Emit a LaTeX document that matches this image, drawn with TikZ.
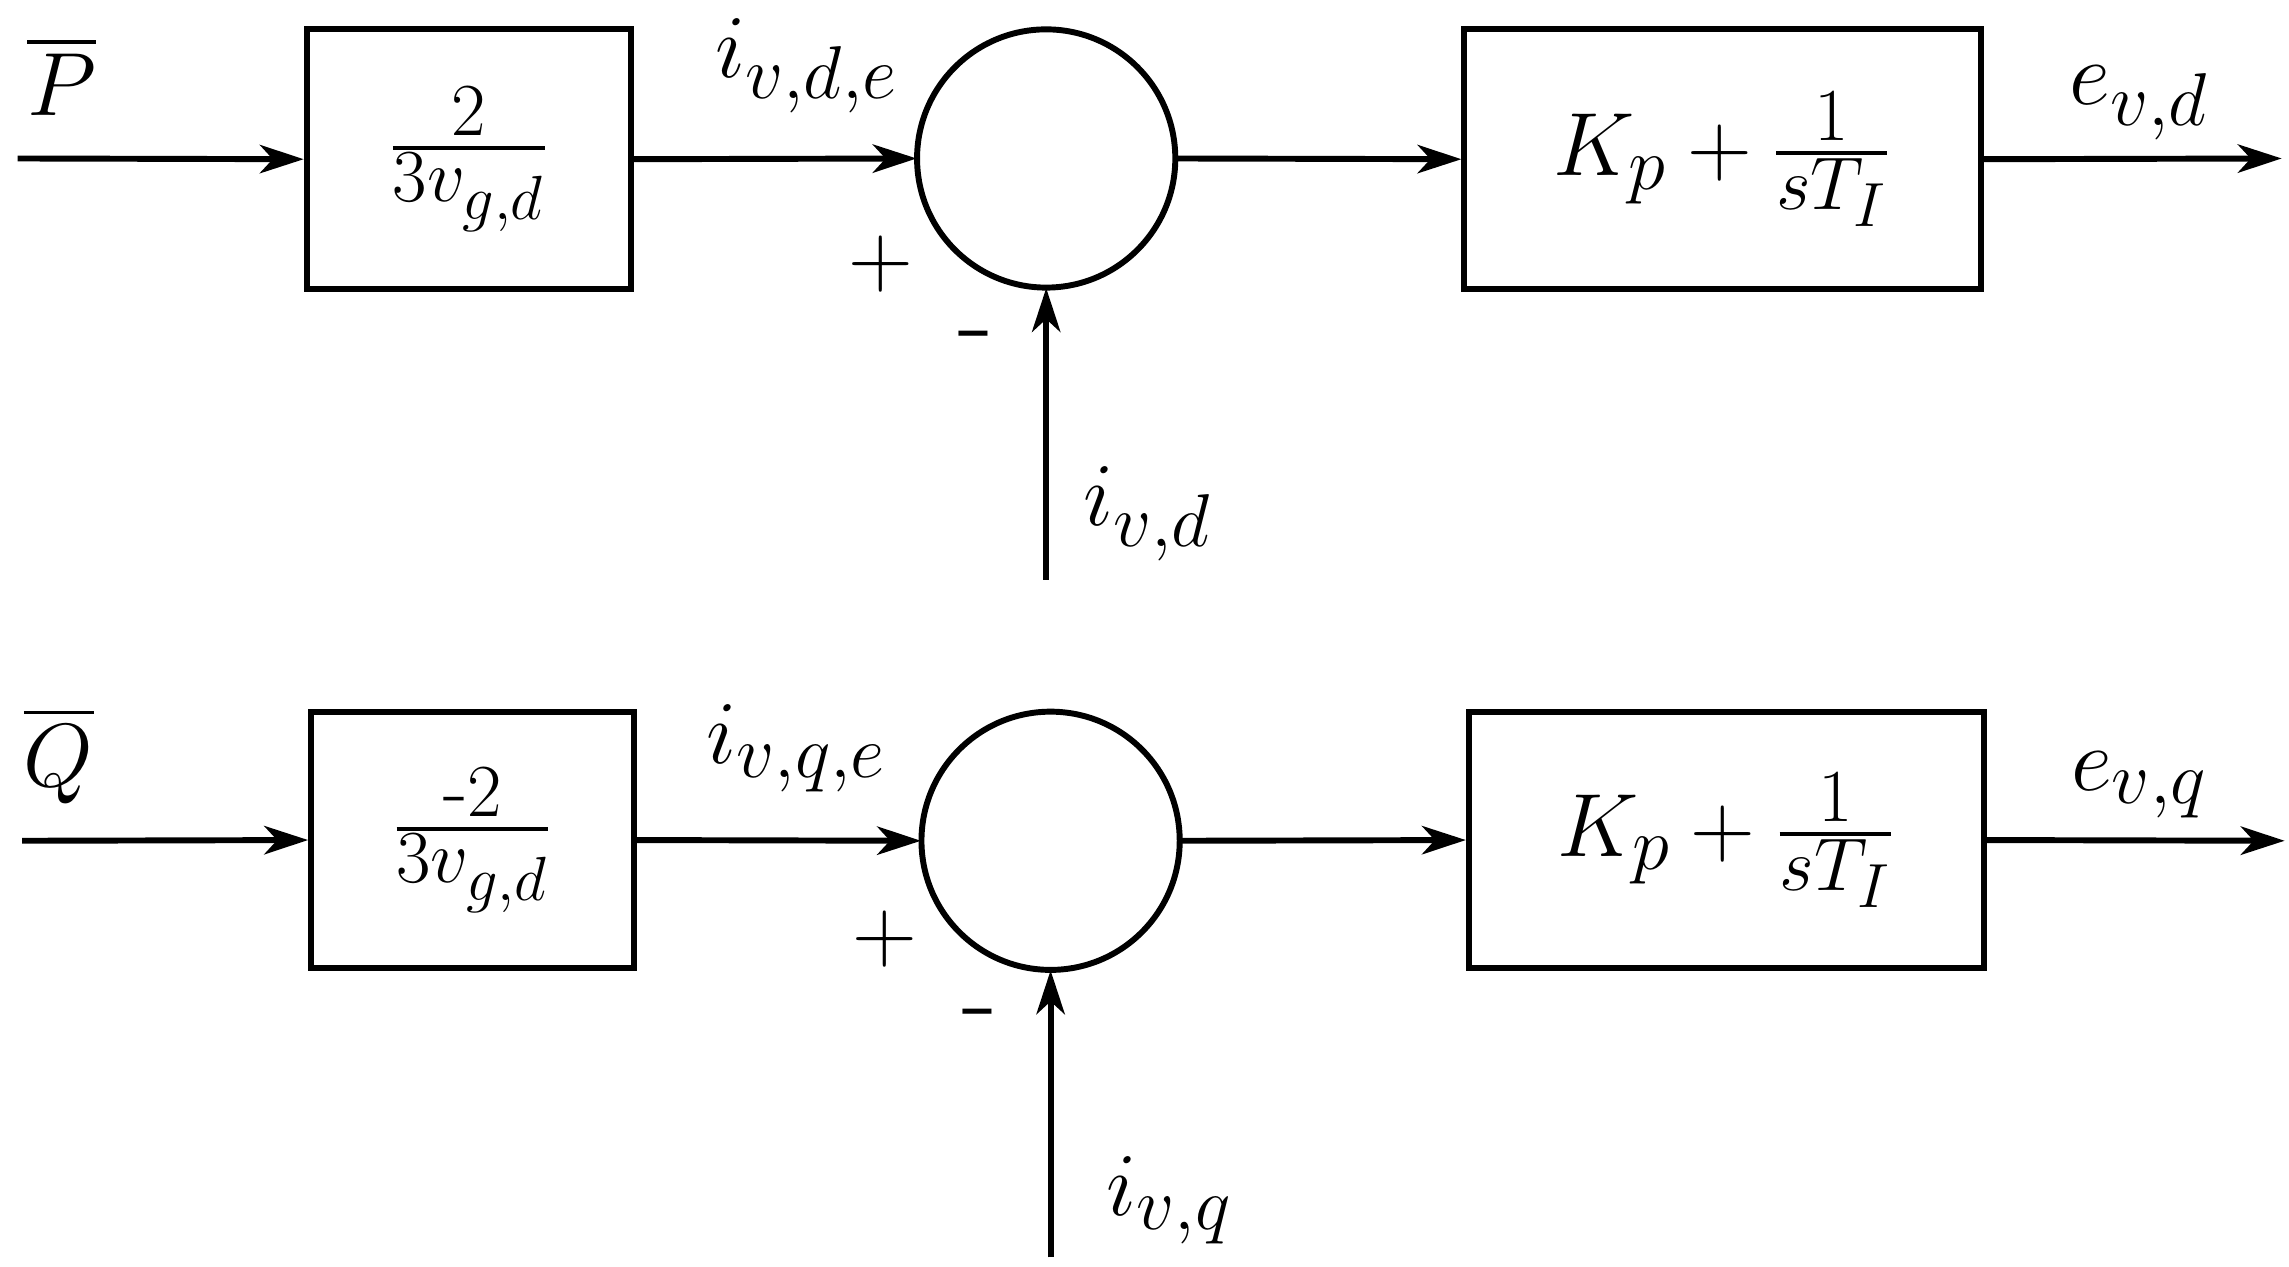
\documentclass[tikz,border=0pt]{standalone}
\usepackage{amsmath}
\usetikzlibrary{arrows.meta}
\begin{document}
\begin{tikzpicture}[x=0.02cm,y=-0.02cm,
  lbl/.style={font=\fontsize{32}{38}\selectfont,scale=1.4},
  ln/.style={line width=2.3pt},
  arr/.style={ln,-{Stealth[length=17pt,width=11pt,inset=5pt]}},
  blk/.style={draw,line width=2.3pt,inner sep=0pt}]
\useasboundingbox (0,0) rectangle (1560,863);
% top row
\coordinate (pin) at (12,108);
\node[blk,minimum width=221*0.02cm,minimum height=177*0.02cm] (b1) at (319.5,108.5) {};
\node[lbl] (t1) at (b1) {$\frac{2}{3v_{g,d}}$};
\draw[ln] (713,108) circle[radius=88];
\node[circle,minimum size=176*0.02cm,inner sep=0pt] (s1) at (713,108) {};
\node[blk,minimum width=352*0.02cm,minimum height=177*0.02cm] (c1) at (1174,108.5) {};
\node[lbl] (t2) at (c1) {$K_p+\frac{1}{sT_I}$};
\coordinate (pout) at (1555,108);
\coordinate (pfb) at (713,395);
\draw[arr] (pin) -- (b1.west);
\draw[arr] (b1.east) -- (s1.west);
\draw[arr] (s1.east) -- (c1.west);
\draw[arr] (c1.east) -- (pout);
\draw[arr] (pfb) -- (s1.south);
\node[lbl] (lp) at (42,52) {$\overline{P}$};
\node[lbl] (l1) at (550,45) {$i_{v,d,e}$};
\node[lbl] (pl1) at (600,180) {$+$};
\node[lbl] (mi1) at (665,235) {-};
\node[lbl] (l2) at (782,350) {$i_{v,d}$};
\node[lbl] (l3) at (1458,70) {$e_{v,d}$};
% bottom row
\coordinate (qin) at (15,573);
\node[blk,minimum width=220*0.02cm,minimum height=175*0.02cm] (b2) at (322,572.5) {};
\node[lbl] (t3) at (b2) {$\frac{\text{-}2}{3v_{g,d}}$};
\draw[ln] (716,573) circle[radius=88];
\node[circle,minimum size=176*0.02cm,inner sep=0pt] (s2) at (716,573) {};
\node[blk,minimum width=351*0.02cm,minimum height=175*0.02cm] (c2) at (1176.5,572.5) {};
\node[lbl] (t4) at (c2) {$K_p+\frac{1}{sT_I}$};
\coordinate (qout) at (1557,573);
\coordinate (qfb) at (716,857);
\draw[arr] (qin) -- (b2.west);
\draw[arr] (b2.east) -- (s2.west);
\draw[arr] (s2.east) -- (c2.west);
\draw[arr] (c2.east) -- (qout);
\draw[arr] (qfb) -- (s2.south);
\node[lbl] (lq) at (40,515) {$\overline{Q}$};
\node[lbl] (l4) at (543,510) {$i_{v,q,e}$};
\node[lbl] (pl2) at (603,640) {$+$};
\node[lbl] (mi2) at (668,697) {-};
\node[lbl] (l5) at (797,818) {$i_{v,q}$};
\node[lbl] (l6) at (1458,535) {$e_{v,q}$};
\end{tikzpicture}
\end{document}
